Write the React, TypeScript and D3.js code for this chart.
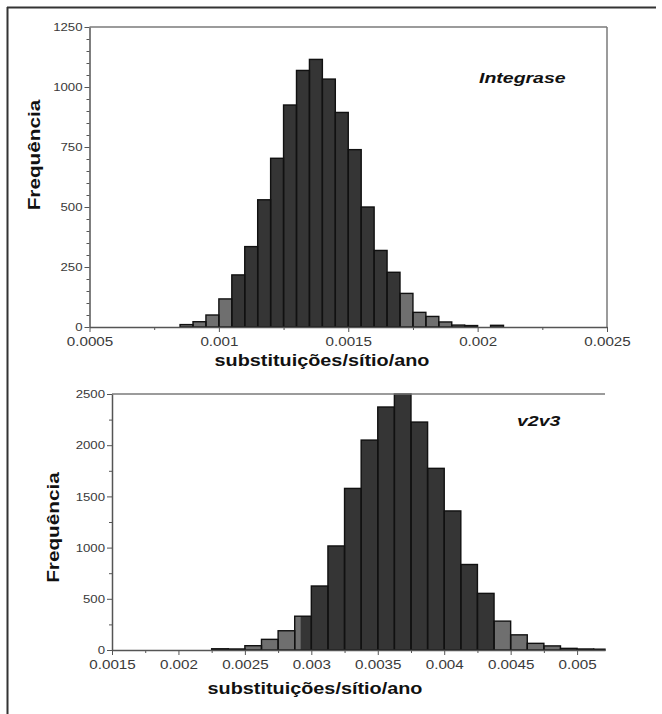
import { useRef, useEffect } from "react";
import * as d3 from "d3";

// Integrase histogram: bins start at 0.00085, width 0.00005
const intBinStart = 0.00085;
const intBinWidth = 0.00005;
const intCounts = [
  10, 22, 50, 117, 217, 335, 530, 703, 925, 1069, 1115, 1033, 894, 739, 500,
  319, 228, 140, 61, 44, 21, 8, 6, 0, 7,
];
const intHpd = [0.00105, 0.0017];
const intXTicks = [0.0005, 0.001, 0.0015, 0.002, 0.0025];
const intYTicks = [0, 250, 500, 750, 1000, 1250];

// v2v3 histogram: bins start at 0.00225, width 0.000125
const v2BinStart = 0.00225;
const v2BinWidth = 0.000125;
const v2Counts = [
  12, 10, 42, 104, 188, 330, 625, 1016, 1578, 2050, 2373, 2500, 2226, 1774,
  1358, 835, 553, 282, 148, 65, 40, 16, 10, 8,
];
const v2Hpd = [0.00292, 0.004375];
const v2XTicks = [0.0015, 0.002, 0.0025, 0.003, 0.0035, 0.004, 0.0045, 0.005];
const v2YTicks = [0, 500, 1000, 1500, 2000, 2500];

const FONT = "'Liberation Sans', Arial, Helvetica, sans-serif";
const DARK = "#353535";
const LIGHT = "#6f6f6f";
const EDGE = "#111";
const AXIS = "#555";

function label(g, text, x, y, opts = {}) {
  const { size = 16, weight = "bold", style = "normal", sx = 1.25, rotate = 0, anchor = "middle", fill = "#111" } = opts;
  g.append("text")
    .attr("transform", `translate(${x},${y}) rotate(${rotate}) scale(${sx},1)`)
    .attr("text-anchor", anchor)
    .style("font-family", FONT)
    .style("font-size", `${size}px`)
    .style("font-weight", weight)
    .style("font-style", style)
    .style("fill", fill)
    .text(text);
}

function drawHistogram(svg, cfg) {
  const { binStart, binWidth, counts, hpd, xTicks, yTicks, xDomain, yMax, left, right, top, bottom, yMinorStep, frameRight } = cfg;
  const x = d3.scaleLinear().domain(xDomain).range([left, right]);
  const y = d3.scaleLinear().domain([0, yMax]).range([bottom, top]);
  const g = svg.append("g");

  const bins = counts.map((v, i) => ({
    x0: binStart + i * binWidth,
    x1: Math.min(binStart + (i + 1) * binWidth, xDomain[1]),
    v,
  })).filter((d) => d.v > 0);

  // light fill for whole bar, dark overlay for part inside the 95% HPD
  g.selectAll(".bar-bg").data(bins).enter().append("rect")
    .attr("x", (d) => x(d.x0)).attr("width", (d) => x(d.x1) - x(d.x0))
    .attr("y", (d) => y(d.v)).attr("height", (d) => y(0) - y(d.v))
    .attr("fill", LIGHT);

  const inside = bins
    .map((d) => ({ a: Math.max(d.x0, hpd[0]), b: Math.min(d.x1, hpd[1]), v: d.v }))
    .filter((d) => d.b > d.a);
  g.selectAll(".bar-in").data(inside).enter().append("rect")
    .attr("x", (d) => x(d.a)).attr("width", (d) => x(d.b) - x(d.a))
    .attr("y", (d) => y(d.v)).attr("height", (d) => y(0) - y(d.v))
    .attr("fill", DARK);

  g.selectAll(".bar-edge").data(bins).enter().append("rect")
    .attr("x", (d) => x(d.x0)).attr("width", (d) => x(d.x1) - x(d.x0))
    .attr("y", (d) => y(d.v)).attr("height", (d) => y(0) - y(d.v))
    .attr("fill", "none").attr("stroke", EDGE).attr("stroke-width", 1.4);

  // frame
  g.append("line").attr("x1", left).attr("x2", right).attr("y1", top).attr("y2", top)
    .attr("stroke", "#7a7a7a").attr("stroke-width", 1.5);
  if (frameRight) {
    g.append("line").attr("x1", right).attr("x2", right).attr("y1", top).attr("y2", bottom)
      .attr("stroke", "#7a7a7a").attr("stroke-width", 1.5);
  }

  // minor ticks
  const xMinor = d3.range(xDomain[0], xDomain[1] + 1e-9, 0.00025)
    .filter((v) => !xTicks.some((t) => Math.abs(t - v) < 1e-9));
  const xm = g.append("g").attr("transform", `translate(0,${bottom})`)
    .call(d3.axisBottom(x).tickValues(xMinor).tickSize(3).tickSizeOuter(0).tickFormat(() => ""));
  xm.select(".domain").remove();
  xm.selectAll("line").style("stroke", AXIS);

  const yMinor = d3.range(0, yMax + 1e-9, yMinorStep).filter((v) => !yTicks.includes(v));
  const ym = g.append("g").attr("transform", `translate(${left},0)`)
    .call(d3.axisLeft(y).tickValues(yMinor).tickSize(3).tickSizeOuter(0).tickFormat(() => ""));
  ym.select(".domain").remove();
  ym.selectAll("line").style("stroke", AXIS);

  // major axes
  const xa = g.append("g").attr("transform", `translate(0,${bottom})`)
    .call(d3.axisBottom(x).tickValues(xTicks).tickSize(5).tickSizeOuter(0).tickFormat((d) => String(d)));
  xa.select(".domain").style("stroke", AXIS).style("stroke-width", 1.5);
  xa.selectAll("line").style("stroke", AXIS);
  xa.selectAll("text")
    .attr("y", 19).attr("dy", 0)
    .attr("transform", "scale(1.17,1)")
    .style("font-family", FONT).style("font-size", "13px").style("fill", "#3a3a3a");

  const ya = g.append("g").attr("transform", `translate(${left},0)`)
    .call(d3.axisLeft(y).tickValues(yTicks).tickSize(5).tickSizeOuter(0).tickFormat((d) => String(d)));
  ya.select(".domain").style("stroke", AXIS).style("stroke-width", 1.5);
  ya.selectAll("line").style("stroke", AXIS);
  ya.selectAll("text")
    .attr("x", -7 / 1.2).attr("dy", "0.34em")
    .attr("transform", "scale(1.2,1)")
    .style("font-family", FONT).style("font-size", "11px").style("fill", "#3a3a3a");
}

const App = () => {
  const svgRef = useRef(null);

  useEffect(() => {
    const svg = d3.select(svgRef.current);
    svg.selectAll("*").remove();

    svg.append("rect").attr("width", 662).attr("height", 714).attr("fill", "#fff");

    // outer frame (left and top)
    svg.append("line").attr("x1", 7.5).attr("x2", 7.5).attr("y1", 7).attr("y2", 714)
      .attr("stroke", "#333").attr("stroke-width", 2);
    svg.append("line").attr("x1", 7).attr("x2", 656).attr("y1", 7.5).attr("y2", 7.5)
      .attr("stroke", "#333").attr("stroke-width", 2);

    drawHistogram(svg, {
      binStart: intBinStart, binWidth: intBinWidth, counts: intCounts, hpd: intHpd,
      xTicks: intXTicks, yTicks: intYTicks, xDomain: [0.0005, 0.0025], yMax: 1250,
      left: 89.5, right: 607, top: 27, bottom: 327, yMinorStep: 50, frameRight: true,
    });

    drawHistogram(svg, {
      binStart: v2BinStart, binWidth: v2BinWidth, counts: v2Counts, hpd: v2Hpd,
      xTicks: v2XTicks, yTicks: v2YTicks, xDomain: [0.0015, 0.00521], yMax: 2500,
      left: 112, right: 605, top: 394, bottom: 650, yMinorStep: 250, frameRight: false,
    });

    label(svg, "Frequência", 40, 155, { size: 17, rotate: -90, sx: 1.22 });
    label(svg, "substituições/sítio/ano", 322, 366, { sx: 1.24 });
    label(svg, "Integrase", 479, 83, { size: 15, style: "italic", sx: 1.3, anchor: "start" });

    label(svg, "Frequência", 59, 527.5, { size: 17, rotate: -90, sx: 1.22 });
    label(svg, "substituições/sítio/ano", 315, 694, { sx: 1.24 });
    label(svg, "v2v3", 517, 426, { size: 15, style: "italic", sx: 1.3, anchor: "start" });
  }, []);

  return (
    <svg
      ref={svgRef}
      width={662}
      height={714}
      style={{ position: "absolute", left: 0, top: 0 }}
    ></svg>
  );
};

export default App;
